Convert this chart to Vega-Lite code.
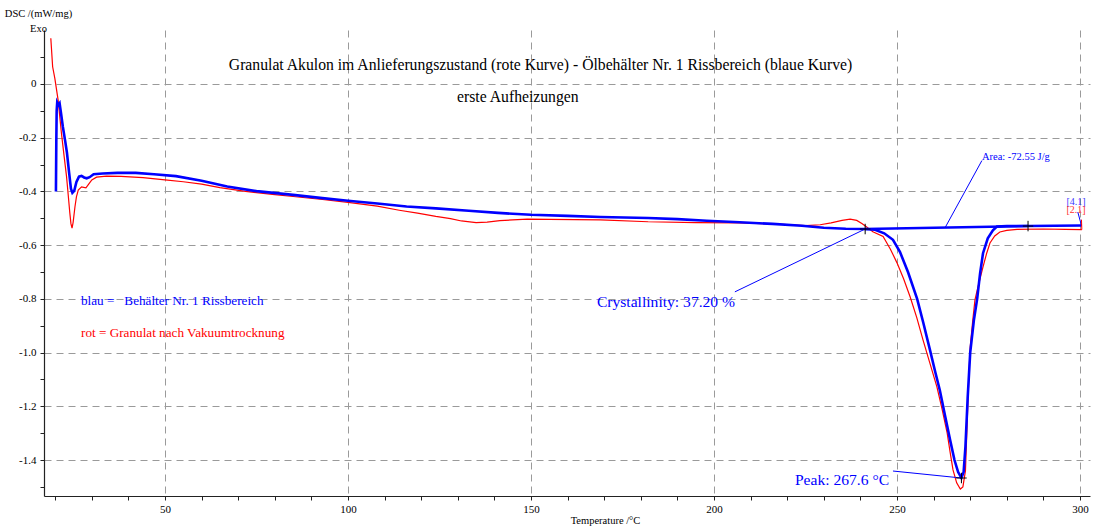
{
  "$schema": "https://vega.github.io/schema/vega-lite/v6.json",
  "width": 1046,
  "height": 466,
  "autosize": "none",
  "padding": {"left": 44, "top": 30, "right": 3, "bottom": 34},
  "background": "white",
  "config": {
    "view": {"stroke": null},
    "font": "Liberation Serif",
    "text": {"font": "Liberation Serif"}
  },
  "datasets": {
    "dsc": [
      {"s": "blau", "T": 20.2, "dsc": -0.400},
      {"s": "blau", "T": 20.3, "dsc": -0.220},
      {"s": "blau", "T": 20.4, "dsc": -0.100},
      {"s": "blau", "T": 20.55, "dsc": -0.068},
      {"s": "blau", "T": 20.9, "dsc": -0.078},
      {"s": "blau", "T": 21.2, "dsc": -0.072},
      {"s": "blau", "T": 21.6, "dsc": -0.110},
      {"s": "blau", "T": 22.1, "dsc": -0.160},
      {"s": "blau", "T": 22.7, "dsc": -0.210},
      {"s": "blau", "T": 23.2, "dsc": -0.255},
      {"s": "blau", "T": 23.8, "dsc": -0.330},
      {"s": "blau", "T": 24.3, "dsc": -0.390},
      {"s": "blau", "T": 24.7, "dsc": -0.405},
      {"s": "blau", "T": 25.2, "dsc": -0.398},
      {"s": "blau", "T": 25.8, "dsc": -0.365},
      {"s": "blau", "T": 26.5, "dsc": -0.345},
      {"s": "blau", "T": 27.2, "dsc": -0.342},
      {"s": "blau", "T": 27.9, "dsc": -0.348},
      {"s": "blau", "T": 28.6, "dsc": -0.351},
      {"s": "blau", "T": 29.4, "dsc": -0.347},
      {"s": "blau", "T": 30.5, "dsc": -0.336},
      {"s": "blau", "T": 33, "dsc": -0.333},
      {"s": "blau", "T": 37, "dsc": -0.331},
      {"s": "blau", "T": 42, "dsc": -0.331},
      {"s": "blau", "T": 47, "dsc": -0.336},
      {"s": "blau", "T": 53, "dsc": -0.343},
      {"s": "blau", "T": 60, "dsc": -0.360},
      {"s": "blau", "T": 67, "dsc": -0.382},
      {"s": "blau", "T": 75, "dsc": -0.399},
      {"s": "blau", "T": 85, "dsc": -0.413},
      {"s": "blau", "T": 93, "dsc": -0.425},
      {"s": "blau", "T": 100, "dsc": -0.435},
      {"s": "blau", "T": 108, "dsc": -0.445},
      {"s": "blau", "T": 116, "dsc": -0.456},
      {"s": "blau", "T": 124, "dsc": -0.463},
      {"s": "blau", "T": 133, "dsc": -0.472},
      {"s": "blau", "T": 141, "dsc": -0.480},
      {"s": "blau", "T": 150, "dsc": -0.487},
      {"s": "blau", "T": 160, "dsc": -0.491},
      {"s": "blau", "T": 169, "dsc": -0.495},
      {"s": "blau", "T": 182, "dsc": -0.499},
      {"s": "blau", "T": 190, "dsc": -0.503},
      {"s": "blau", "T": 198, "dsc": -0.509},
      {"s": "blau", "T": 207, "dsc": -0.515},
      {"s": "blau", "T": 216, "dsc": -0.521},
      {"s": "blau", "T": 224, "dsc": -0.528},
      {"s": "blau", "T": 230, "dsc": -0.535},
      {"s": "blau", "T": 236, "dsc": -0.539},
      {"s": "blau", "T": 241.3, "dsc": -0.540},
      {"s": "blau", "T": 244, "dsc": -0.543},
      {"s": "blau", "T": 246.5, "dsc": -0.556},
      {"s": "blau", "T": 248.9, "dsc": -0.580},
      {"s": "blau", "T": 250.8, "dsc": -0.625},
      {"s": "blau", "T": 253, "dsc": -0.700},
      {"s": "blau", "T": 255.5, "dsc": -0.800},
      {"s": "blau", "T": 257.2, "dsc": -0.890},
      {"s": "blau", "T": 259, "dsc": -0.990},
      {"s": "blau", "T": 260.5, "dsc": -1.075},
      {"s": "blau", "T": 261.7, "dsc": -1.140},
      {"s": "blau", "T": 263.2, "dsc": -1.240},
      {"s": "blau", "T": 264.5, "dsc": -1.325},
      {"s": "blau", "T": 265.7, "dsc": -1.400},
      {"s": "blau", "T": 266.7, "dsc": -1.445},
      {"s": "blau", "T": 267.6, "dsc": -1.467},
      {"s": "blau", "T": 268.2, "dsc": -1.445},
      {"s": "blau", "T": 268.7, "dsc": -1.350},
      {"s": "blau", "T": 269.3, "dsc": -1.170},
      {"s": "blau", "T": 270.0, "dsc": -1.000},
      {"s": "blau", "T": 271.0, "dsc": -0.880},
      {"s": "blau", "T": 271.9, "dsc": -0.800},
      {"s": "blau", "T": 272.7, "dsc": -0.705},
      {"s": "blau", "T": 273.5, "dsc": -0.630},
      {"s": "blau", "T": 274.8, "dsc": -0.575},
      {"s": "blau", "T": 276.2, "dsc": -0.545},
      {"s": "blau", "T": 277.3, "dsc": -0.531},
      {"s": "blau", "T": 280, "dsc": -0.529},
      {"s": "blau", "T": 286, "dsc": -0.529},
      {"s": "blau", "T": 293, "dsc": -0.528},
      {"s": "blau", "T": 300.4, "dsc": -0.527},
      {"s": "rot", "T": 18.8, "dsc": 0.170},
      {"s": "rot", "T": 19.3, "dsc": 0.064},
      {"s": "rot", "T": 19.9, "dsc": 0.021},
      {"s": "rot", "T": 20.8, "dsc": -0.060},
      {"s": "rot", "T": 21.7, "dsc": -0.183},
      {"s": "rot", "T": 22.4, "dsc": -0.265},
      {"s": "rot", "T": 23.1, "dsc": -0.345},
      {"s": "rot", "T": 23.6, "dsc": -0.420},
      {"s": "rot", "T": 24.0, "dsc": -0.481},
      {"s": "rot", "T": 24.3, "dsc": -0.520},
      {"s": "rot", "T": 24.6, "dsc": -0.537},
      {"s": "rot", "T": 24.9, "dsc": -0.515},
      {"s": "rot", "T": 25.4, "dsc": -0.457},
      {"s": "rot", "T": 25.8, "dsc": -0.420},
      {"s": "rot", "T": 26.3, "dsc": -0.395},
      {"s": "rot", "T": 27.2, "dsc": -0.383},
      {"s": "rot", "T": 28.4, "dsc": -0.387},
      {"s": "rot", "T": 29.2, "dsc": -0.372},
      {"s": "rot", "T": 30.0, "dsc": -0.357},
      {"s": "rot", "T": 31.3, "dsc": -0.347},
      {"s": "rot", "T": 34, "dsc": -0.343},
      {"s": "rot", "T": 38, "dsc": -0.344},
      {"s": "rot", "T": 44, "dsc": -0.349},
      {"s": "rot", "T": 50, "dsc": -0.357},
      {"s": "rot", "T": 55, "dsc": -0.364},
      {"s": "rot", "T": 60, "dsc": -0.373},
      {"s": "rot", "T": 65, "dsc": -0.386},
      {"s": "rot", "T": 72, "dsc": -0.400},
      {"s": "rot", "T": 80, "dsc": -0.412},
      {"s": "rot", "T": 85, "dsc": -0.419},
      {"s": "rot", "T": 93, "dsc": -0.430},
      {"s": "rot", "T": 100, "dsc": -0.441},
      {"s": "rot", "T": 108, "dsc": -0.455},
      {"s": "rot", "T": 114, "dsc": -0.470},
      {"s": "rot", "T": 119, "dsc": -0.481},
      {"s": "rot", "T": 124, "dsc": -0.493},
      {"s": "rot", "T": 128, "dsc": -0.501},
      {"s": "rot", "T": 131, "dsc": -0.510},
      {"s": "rot", "T": 135, "dsc": -0.516},
      {"s": "rot", "T": 138, "dsc": -0.514},
      {"s": "rot", "T": 141.5, "dsc": -0.509},
      {"s": "rot", "T": 145, "dsc": -0.506},
      {"s": "rot", "T": 149, "dsc": -0.503},
      {"s": "rot", "T": 155, "dsc": -0.504},
      {"s": "rot", "T": 169, "dsc": -0.506},
      {"s": "rot", "T": 182, "dsc": -0.513},
      {"s": "rot", "T": 195, "dsc": -0.516},
      {"s": "rot", "T": 207, "dsc": -0.517},
      {"s": "rot", "T": 216, "dsc": -0.521},
      {"s": "rot", "T": 225, "dsc": -0.527},
      {"s": "rot", "T": 229, "dsc": -0.524},
      {"s": "rot", "T": 232, "dsc": -0.517},
      {"s": "rot", "T": 235, "dsc": -0.508},
      {"s": "rot", "T": 237.2, "dsc": -0.503},
      {"s": "rot", "T": 239, "dsc": -0.508},
      {"s": "rot", "T": 240.5, "dsc": -0.520},
      {"s": "rot", "T": 241.8, "dsc": -0.533},
      {"s": "rot", "T": 243.4, "dsc": -0.550},
      {"s": "rot", "T": 246.2, "dsc": -0.568},
      {"s": "rot", "T": 248.2, "dsc": -0.615},
      {"s": "rot", "T": 250, "dsc": -0.666},
      {"s": "rot", "T": 251.8, "dsc": -0.725},
      {"s": "rot", "T": 253.6, "dsc": -0.793},
      {"s": "rot", "T": 255.4, "dsc": -0.870},
      {"s": "rot", "T": 257.1, "dsc": -0.953},
      {"s": "rot", "T": 259, "dsc": -1.040},
      {"s": "rot", "T": 260.9, "dsc": -1.128},
      {"s": "rot", "T": 262.3, "dsc": -1.210},
      {"s": "rot", "T": 263.7, "dsc": -1.299},
      {"s": "rot", "T": 264.5, "dsc": -1.370},
      {"s": "rot", "T": 265.3, "dsc": -1.437},
      {"s": "rot", "T": 266.3, "dsc": -1.485},
      {"s": "rot", "T": 267.3, "dsc": -1.508},
      {"s": "rot", "T": 268.0, "dsc": -1.500},
      {"s": "rot", "T": 268.7, "dsc": -1.440},
      {"s": "rot", "T": 269.2, "dsc": -1.250},
      {"s": "rot", "T": 269.6, "dsc": -1.100},
      {"s": "rot", "T": 270.0, "dsc": -0.979},
      {"s": "rot", "T": 270.7, "dsc": -0.880},
      {"s": "rot", "T": 271.3, "dsc": -0.804},
      {"s": "rot", "T": 272.4, "dsc": -0.740},
      {"s": "rot", "T": 273.5, "dsc": -0.681},
      {"s": "rot", "T": 274.5, "dsc": -0.630},
      {"s": "rot", "T": 275.4, "dsc": -0.592},
      {"s": "rot", "T": 276.7, "dsc": -0.566},
      {"s": "rot", "T": 278.1, "dsc": -0.551},
      {"s": "rot", "T": 280, "dsc": -0.545},
      {"s": "rot", "T": 282.8, "dsc": -0.541},
      {"s": "rot", "T": 290, "dsc": -0.540},
      {"s": "rot", "T": 296, "dsc": -0.541},
      {"s": "rot", "T": 300.5, "dsc": -0.542}
    ],
    "segments": [
      {"kind": "baseline", "T": 241.3, "dsc": -0.540, "T2": 285.8, "dsc2": -0.529},
      {"kind": "lead", "T": 205.7, "dsc": -0.774, "T2": 241.3, "dsc2": -0.540},
      {"kind": "lead", "T": 263.1, "dsc": -0.536, "T2": 273.2, "dsc2": -0.285},
      {"kind": "lead", "T": 248.9, "dsc": -1.441, "T2": 267.6, "dsc2": -1.467},
      {"kind": "lead", "T": 300.4, "dsc": -0.527, "T2": 299.4, "dsc2": -0.477},
      {"kind": "leadred", "T": 300.5, "dsc": -0.542, "T2": 300.4, "dsc2": -0.505}
    ],
    "crosses": [
      {"T": 241.3, "dsc": -0.540},
      {"T": 285.8, "dsc": -0.529},
      {"T": 267.6, "dsc": -1.467}
    ],
    "labels": [
      {"kind": "title", "T": 152.6, "dsc": 0.071, "text": "Granulat Akulon im Anlieferungszustand (rote Kurve) - Ölbehälter Nr. 1 Rissbereich (blaue Kurve)"},
      {"kind": "title", "T": 146.4, "dsc": -0.048, "text": "erste Aufheizungen"},
      {"kind": "legblue", "T": 27.05, "dsc": -0.808, "text": "blau =\u00a0\u00a0 Behälter Nr. 1 Rissbereich"},
      {"kind": "legred", "T": 27.05, "dsc": -0.927, "text": "rot = Granulat nach Vakuumtrocknung"},
      {"kind": "big", "T": 168.0, "dsc": -0.812, "text": "Crystallinity: 37.20 %"},
      {"kind": "big", "T": 222.1, "dsc": -1.474, "text": "Peak: 267.6 °C"},
      {"kind": "small", "T": 273.2, "dsc": -0.272, "text": "Area: -72.55 J/g"},
      {"kind": "tagblue", "T": 298.9, "dsc": -0.441, "text": "[4.1]"},
      {"kind": "tagred", "T": 298.9, "dsc": -0.469, "text": "[2.1]"}
    ]
  },
  "encoding": {
    "x": {
      "field": "T",
      "type": "quantitative",
      "scale": {"domain": [16.94, 302.73], "nice": false, "zero": false},
      "axis": {
        "values": [20, 30, 40, 50, 60, 70, 80, 90, 100, 110, 120, 130, 140, 150, 160, 170, 180, 190, 200, 210, 220, 230, 240, 250, 260, 270, 280, 290, 300],
        "labelExpr": "datum.value % 50 == 0 ? datum.label : ''",
        "title": "Temperature /°C",
        "titleFont": "Liberation Serif",
        "titleFontSize": 10.5,
        "titleFontWeight": "normal",
        "titleColor": "#000",
        "titleX": 561,
        "titleY": 24,
        "titleBaseline": "middle",
        "grid": true,
        "gridColor": "#9a9a9a",
        "gridDash": [7, 5],
        "gridWidth": 1,
        "gridOpacity": {"condition": {"test": "datum.value % 50 == 0", "value": 1}, "value": 0},
        "domainColor": "#222",
        "domainWidth": 1.2,
        "tickColor": "#222",
        "tickSize": 4,
        "labelFont": "Liberation Serif",
        "labelFontSize": 11,
        "labelColor": "#000",
        "labelPadding": 3,
        "labelFlush": false,
        "labelOverlap": false
      }
    },
    "y": {
      "field": "dsc",
      "type": "quantitative",
      "scale": {"domain": [-1.534, 0.201], "nice": false, "zero": false},
      "axis": {
        "values": [-1.5, -1.4, -1.3, -1.2, -1.1, -1.0, -0.9, -0.8, -0.7, -0.6, -0.5, -0.4, -0.3, -0.2, -0.1, 0, 0.1],
        "labelExpr": "abs(round(datum.value * 10)) % 2 == 0 ? (datum.value == 0 ? '0' : (datum.value < 0 ? '-' : '') + format(abs(datum.value), '.1f')) : ''",
        "title": ["DSC /(mW/mg)", "Exo"],
        "titleFont": "Liberation Serif",
        "titleFontSize": 10.5,
        "titleFontWeight": "normal",
        "titleColor": "#000",
        "titleAngle": 0,
        "titleAlign": "center",
        "titleBaseline": "alphabetic",
        "titleLineHeight": 15,
        "titleX": -6,
        "titleY": -14,
        "grid": true,
        "gridColor": "#9a9a9a",
        "gridDash": [7, 5],
        "gridWidth": 1,
        "gridOpacity": {"condition": {"test": "abs(round(datum.value * 10)) % 2 == 0", "value": 1}, "value": 0},
        "domainColor": "#222",
        "domainWidth": 1.2,
        "tickColor": "#222",
        "tickSize": 4,
        "labelFont": "Liberation Serif",
        "labelFontSize": 11,
        "labelColor": "#000",
        "labelPadding": 4,
        "labelFlush": false,
        "labelOverlap": false
      }
    }
  },
  "layer": [
    {
      "data": {"name": "dsc"},
      "transform": [{"filter": "datum.s == 'rot'"}],
      "mark": {"type": "line", "color": "#ff0000", "strokeWidth": 1.2, "clip": true}
    },
    {
      "data": {"name": "dsc"},
      "transform": [{"filter": "datum.s == 'blau'"}],
      "mark": {"type": "line", "color": "#0000ff", "strokeWidth": 2.6, "clip": true}
    },
    {
      "data": {"name": "segments"},
      "transform": [{"filter": "datum.kind == 'baseline'"}],
      "mark": {"type": "rule", "color": "#0000ff", "strokeWidth": 2.4},
      "encoding": {"x2": {"field": "T2"}, "y2": {"field": "dsc2"}}
    },
    {
      "data": {"name": "segments"},
      "transform": [{"filter": "datum.kind == 'lead'"}],
      "mark": {"type": "rule", "color": "#0000ff", "strokeWidth": 1},
      "encoding": {"x2": {"field": "T2"}, "y2": {"field": "dsc2"}}
    },
    {
      "data": {"name": "segments"},
      "transform": [{"filter": "datum.kind == 'leadred'"}],
      "mark": {"type": "rule", "color": "#ff0000", "strokeWidth": 1},
      "encoding": {"x2": {"field": "T2"}, "y2": {"field": "dsc2"}}
    },
    {
      "data": {"name": "crosses"},
      "mark": {"type": "point", "shape": "M-1,0L1,0M0,-1L0,1", "filled": false, "stroke": "#000", "strokeWidth": 1, "size": 110, "opacity": 1}
    },
    {
      "data": {"name": "labels"},
      "transform": [{"filter": "datum.kind == 'title'"}],
      "mark": {"type": "text", "font": "Liberation Serif", "fontSize": 15.7, "color": "#000", "align": "center", "baseline": "middle"},
      "encoding": {"text": {"field": "text"}}
    },
    {
      "data": {"name": "labels"},
      "transform": [{"filter": "datum.kind == 'legblue'"}],
      "mark": {"type": "text", "font": "Liberation Serif", "fontSize": 13.2, "color": "#0000ff", "align": "left", "baseline": "middle"},
      "encoding": {"text": {"field": "text"}}
    },
    {
      "data": {"name": "labels"},
      "transform": [{"filter": "datum.kind == 'legred'"}],
      "mark": {"type": "text", "font": "Liberation Serif", "fontSize": 13.2, "color": "#ff0000", "align": "left", "baseline": "middle"},
      "encoding": {"text": {"field": "text"}}
    },
    {
      "data": {"name": "labels"},
      "transform": [{"filter": "datum.kind == 'big'"}],
      "mark": {"type": "text", "font": "Liberation Serif", "fontSize": 15.6, "color": "#0000ff", "align": "left", "baseline": "middle"},
      "encoding": {"text": {"field": "text"}}
    },
    {
      "data": {"name": "labels"},
      "transform": [{"filter": "datum.kind == 'small'"}],
      "mark": {"type": "text", "font": "Liberation Serif", "fontSize": 10.5, "color": "#0000ff", "align": "left", "baseline": "middle"},
      "encoding": {"text": {"field": "text"}}
    },
    {
      "data": {"name": "labels"},
      "transform": [{"filter": "datum.kind == 'tagblue'"}],
      "mark": {"type": "text", "font": "Liberation Serif", "fontSize": 10, "color": "#3a3aff", "align": "center", "baseline": "middle"},
      "encoding": {"text": {"field": "text"}}
    },
    {
      "data": {"name": "labels"},
      "transform": [{"filter": "datum.kind == 'tagred'"}],
      "mark": {"type": "text", "font": "Liberation Serif", "fontSize": 10, "color": "#ff3030", "align": "center", "baseline": "middle"},
      "encoding": {"text": {"field": "text"}}
    }
  ]
}
